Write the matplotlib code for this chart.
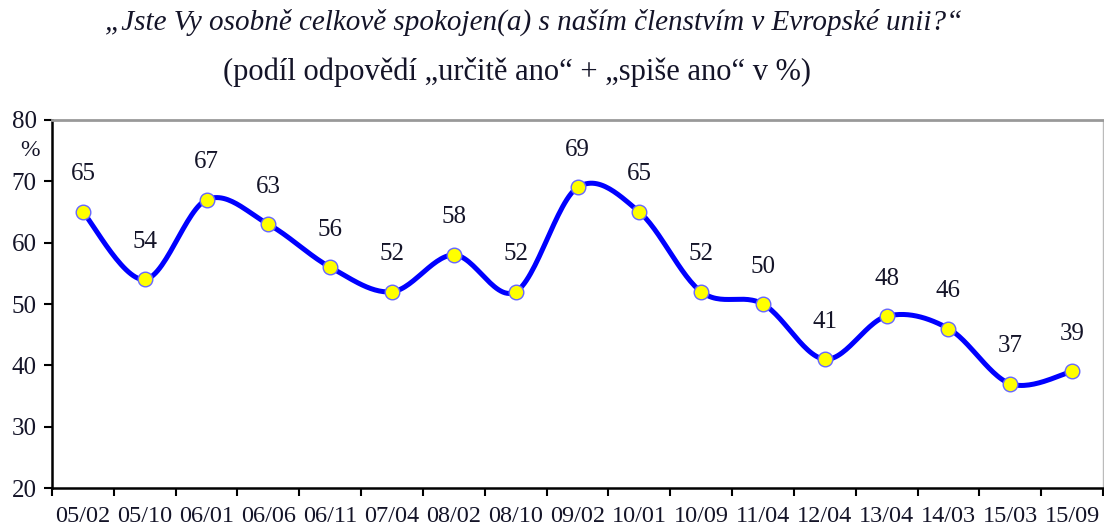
import numpy as np
import matplotlib.pyplot as plt

labels = ["05/02", "05/10", "06/01", "06/06", "06/11", "07/04", "08/02", "08/10", "09/02",
          "10/01", "10/09", "11/04", "12/04", "13/04", "14/03", "15/03", "15/09"]
values = [65, 54, 67, 63, 56, 52, 58, 52, 69, 65, 52, 50, 41, 48, 46, 37, 39]

title = "\u201eJste Vy osobn\u011b celkov\u011b spokojen(a) s na\u0161\u00edm \u010dlenstv\u00edm v Evropsk\u00e9 unii?\u201c"
subtitle = "(pod\u00edl odpov\u011bd\u00ed \u201eur\u010dit\u011b ano\u201c + \u201espi\u0161e ano\u201c v %)"

plt.rcParams['font.family'] = ['Liberation Serif', 'DejaVu Serif']
txt_color = '#141428'


def smooth(x, y, n=30):
    # Catmull-Rom style smoothing like the Excel "smoothed line"
    x = np.asarray(x, float)
    y = np.asarray(y, float)
    px = np.concatenate([[x[0]], x, [x[-1]]])
    py = np.concatenate([[y[0]], y, [y[-1]]])
    xs, ys = [], []
    t = np.linspace(0, 1, n)
    for i in range(1, len(px) - 2):
        p0, p1, p2, p3 = (np.array([px[j], py[j]]) for j in range(i - 1, i + 3))
        c1 = p1 + (p2 - p0) / 6
        c2 = p2 - (p3 - p1) / 6
        pts = ((1 - t) ** 3)[:, None] * p1 + (3 * (1 - t) ** 2 * t)[:, None] * c1 \
            + (3 * (1 - t) * t ** 2)[:, None] * c2 + (t ** 3)[:, None] * p2
        xs.extend(pts[:, 0])
        ys.extend(pts[:, 1])
    return xs, ys


fig = plt.figure(figsize=(11.04, 5.30), dpi=100)
ax = fig.add_axes([0.0471, 0.0792, 0.952, 0.6944])

x = np.arange(len(values))
sx, sy = smooth(x, values)
ax.plot(sx, sy, color='#0000ff', lw=3.6, zorder=2, solid_capstyle='round')
ax.plot(x, values, 'o', ms=10.5, mfc='#ffff00', mec='#6666ff', mew=1, zorder=3)

for xi, v in zip(x, values):
    ax.annotate(str(v), (xi, v), xytext=(0, 27), textcoords='offset points',
                ha='center', va='center', fontsize=18, color=txt_color)

ax.set_xlim(-0.5, len(values) - 0.5)
ax.set_ylim(20, 80)
ax.set_yticks(range(20, 90, 10))
ax.set_xticks(np.arange(-0.5, len(values), 1))
ax.set_xticklabels([])
ax.set_xticks(x, minor=True)
ax.set_xticklabels(labels, minor=True)
ax.tick_params(axis='x', which='minor', length=0, pad=13, labelsize=17.5, labelcolor=txt_color)
ax.tick_params(axis='x', which='major', length=6, width=1.5, direction='out')
ax.tick_params(axis='y', length=6, width=1.5, pad=5, labelsize=18, labelcolor=txt_color)

ax.spines['left'].set_linewidth(1.8)
ax.spines['bottom'].set_linewidth(1.8)
ax.spines['top'].set_color('#999999')
ax.spines['top'].set_linewidth(2)
ax.spines['right'].set_color('#bbbbbb')
ax.spines['right'].set_linewidth(1)

ax.text(-0.021, 75, "%", transform=ax.get_yaxis_transform(), ha='center', va='center',
        fontsize=17, color=txt_color)

fig.text(0.483, 0.958, title, ha='center', va='center', fontsize=21, style='italic', color=txt_color)
fig.text(0.468, 0.864, subtitle, ha='center', va='center', fontsize=22, color=txt_color)

fig.savefig('out.png', dpi=100)
